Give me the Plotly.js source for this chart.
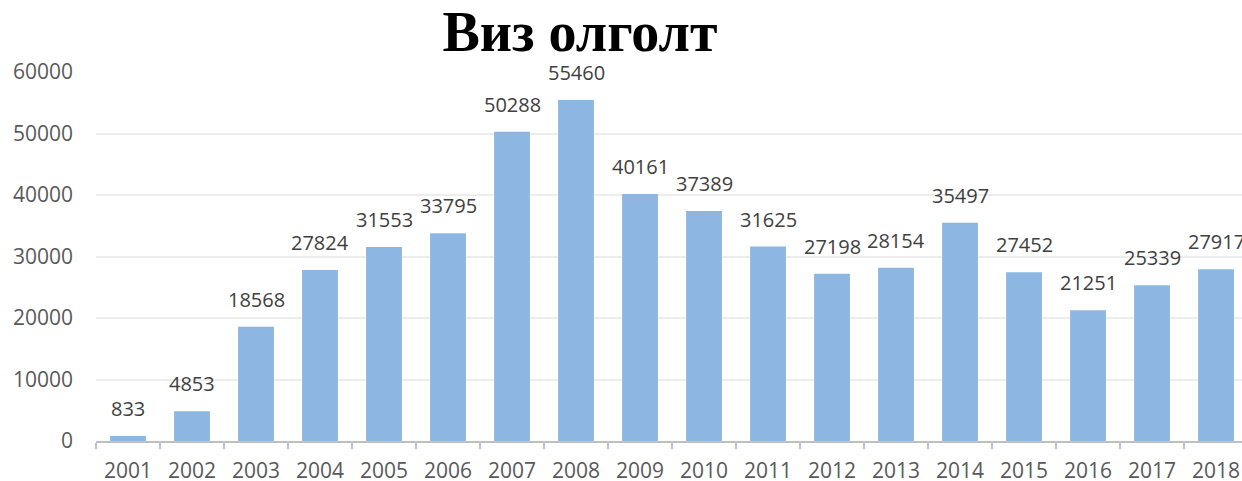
<!DOCTYPE html>
<html><head><meta charset="utf-8">
<script src="https://cdn.plot.ly/plotly-3.0.1.min.js"></script>
<style>html,body{margin:0;padding:0;overflow:hidden;background:#fff}</style>
</head><body><div id="chart" style="width:1242px;height:481px"></div>
<script>
const years = ['2001','2002','2003','2004','2005','2006','2007','2008','2009','2010','2011','2012','2013','2014','2015','2016','2017','2018'];
const visas = [833,4853,18568,27824,31553,33795,50288,55460,40161,37389,31625,27198,28154,35497,27452,21251,25339,27917];
const yTicks = [0,10000,20000,30000,40000,50000,60000];
const titleText = 'Виз олголт';

const annotations = years.map((y,i)=>({
  x: i, y: visas[i], xref:'x', yref:'y', text: String(visas[i]),
  showarrow:false, yanchor:'bottom', xanchor:'center', yshift:12,
  font:{family:'Open Sans', size:20, color:'#404040'}
}));

Plotly.newPlot('chart',[{
  type:'bar', x:years, y:visas, width:0.56,
  marker:{color:'#8DB7E2'}, hoverinfo:'skip'
}],{
  width:1242, height:481,
  margin:{l:96,r:0,t:72,b:40},
  paper_bgcolor:'#fff', plot_bgcolor:'#fff',
  showlegend:false,
  title:{text:titleText, x:580/1242, xanchor:'center', xref:'container', y:0.935, yref:'container', yanchor:'middle',
    font:{family:'Liberation Serif', size:56, color:'#000', weight:'bold'}},
  xaxis:{type:'category', range:[-0.5,17.406], showgrid:false, showline:true, linecolor:'#BFBFBF', linewidth:2,
    ticks:'outside', tickson:'boundaries', ticklen:6, tickcolor:'#BFBFBF', tickwidth:2, ticklabelstandoff:10,
    tickfont:{family:'Open Sans', size:21, color:'#595959'}, fixedrange:true},
  yaxis:{range:[0,60000], tickvals:yTicks, ticktext:yTicks.map(String), showgrid:true, gridcolor:'#EDEDED', gridwidth:2,
    zeroline:false, showline:false, ticks:'', ticklabelstandoff:22,
    tickfont:{family:'Open Sans', size:21, color:'#595959'}, fixedrange:true},
  annotations: annotations
},{displayModeBar:false, staticPlot:true});
</script></body></html>
